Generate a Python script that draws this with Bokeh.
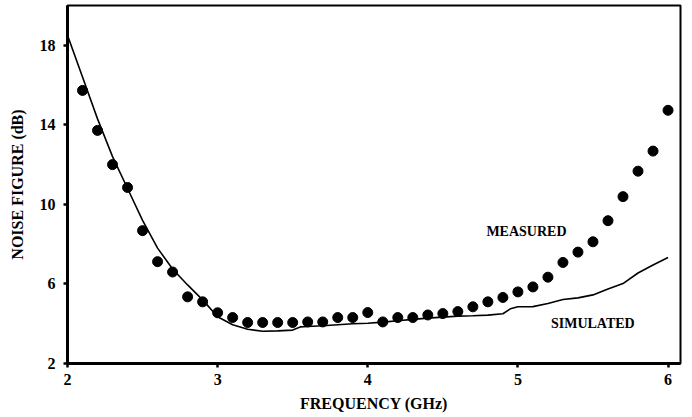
from bokeh.plotting import figure
from bokeh.models import Range1d, FixedTicker, Label
from bokeh.embed import file_html
from bokeh.resources import INLINE

meas_freq = [2.1, 2.2, 2.3, 2.4, 2.5, 2.6, 2.7, 2.8, 2.9, 3.0,
             3.1, 3.2, 3.3, 3.4, 3.5, 3.6, 3.7, 3.8, 3.9, 4.0,
             4.1, 4.2, 4.3, 4.4, 4.5, 4.6, 4.7, 4.8, 4.9, 5.0,
             5.1, 5.2, 5.3, 5.4, 5.5, 5.6, 5.7, 5.8, 5.9, 6.0]
meas_nf = [15.73, 13.72, 12.0, 10.85, 8.68, 7.12, 6.6, 5.35, 5.1, 4.55,
           4.31, 4.06, 4.06, 4.06, 4.06, 4.09, 4.09, 4.31, 4.31, 4.56,
           4.09, 4.31, 4.31, 4.44, 4.51, 4.61, 4.85, 5.1, 5.32, 5.6,
           5.85, 6.34, 7.08, 7.6, 8.12, 9.18, 10.39, 11.67, 12.68, 14.73]

sim_freq = [2.0, 2.1, 2.2, 2.3, 2.4, 2.5, 2.6, 2.7, 2.8, 2.9, 3.0,
            3.1, 3.2, 3.3, 3.4, 3.5, 3.55, 3.6, 3.7, 3.8, 3.9, 4.0,
            4.1, 4.2, 4.3, 4.4, 4.5, 4.6, 4.7, 4.8, 4.9, 4.95, 5.0,
            5.1, 5.2, 5.3, 5.4, 5.5, 5.6, 5.7, 5.8, 5.9, 6.0]
sim_nf = [18.5, 16.4, 14.3, 12.4, 10.8, 9.2, 7.8, 6.75, 5.95, 5.2, 4.35,
          3.95, 3.72, 3.62, 3.64, 3.68, 3.84, 3.86, 3.9, 3.95, 4.0, 4.02,
          4.08, 4.15, 4.22, 4.28, 4.33, 4.38, 4.4, 4.43, 4.5, 4.75, 4.85,
          4.86, 5.02, 5.22, 5.3, 5.45, 5.75, 6.02, 6.55, 6.95, 7.33]

x_ticks = [2, 3, 4, 5, 6]
y_ticks = [2, 6, 10, 14, 18]

FONT = "Liberation Serif"

p = figure(width=690, height=416, output_backend="svg", toolbar_location=None,
           x_range=Range1d(2, 6.083), y_range=Range1d(2, 20.0),
           min_border_left=67, min_border_right=10, min_border_top=5,
           min_border_bottom=53)
p.background_fill_color = "white"
p.border_fill_color = "white"
p.grid.visible = False
p.outline_line_color = "black"
p.outline_line_width = 2

p.line(sim_freq, sim_nf, line_color="black", line_width=1.6)
p.scatter(meas_freq, meas_nf, size=10, fill_color="black", line_color="black")

for ax in (p.xaxis[0], p.yaxis[0]):
    ax.axis_line_width = 3
    ax.axis_line_color = "black"
    ax.major_tick_line_width = 2.5
    ax.major_tick_line_color = "black"
    ax.major_tick_out = 4
    ax.major_tick_in = 0
    ax.minor_tick_line_color = None
    ax.major_label_text_font = FONT
    ax.major_label_text_font_style = "bold"
    ax.major_label_text_font_size = "16px"
    ax.major_label_text_color = "black"
    ax.axis_label_text_font = FONT
    ax.axis_label_text_font_style = "bold"
    ax.axis_label_text_font_size = "16px"
    ax.axis_label_text_color = "black"

p.xaxis.ticker = FixedTicker(ticks=x_ticks)
p.yaxis.ticker = FixedTicker(ticks=y_ticks)
p.xaxis.axis_label = "FREQUENCY (GHz)"
p.yaxis.axis_label = "NOISE FIGURE (dB)"
p.xaxis.major_label_standoff = 6
p.yaxis.major_label_standoff = 8
p.xaxis.axis_label_standoff = 7
p.yaxis.axis_label_standoff = 11

p.add_layout(Label(x=4.79, y=8.63, text="MEASURED", text_font=FONT,
                   text_font_style="bold", text_font_size="14px",
                   text_baseline="middle", text_color="black"))
p.add_layout(Label(x=5.22, y=3.99, text="SIMULATED", text_font=FONT,
                   text_font_style="bold", text_font_size="14px",
                   text_baseline="middle", text_color="black"))

open("out.html", "w").write(file_html(p, INLINE))
